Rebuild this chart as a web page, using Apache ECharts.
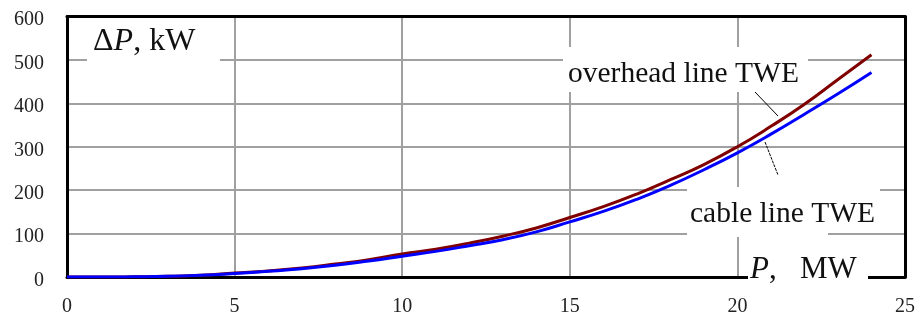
<!DOCTYPE html>
<html>
<head>
<meta charset="utf-8">
<script src="https://cdn.jsdelivr.net/npm/echarts@6/dist/echarts.min.js"></script>
<style>html,body{margin:0;padding:0;background:#fff}#c{width:919px;height:322px}</style>
</head>
<body>
<div id="c"></div>
<script>
// P, MW
const pValues = [0,1,2,3,4,5,6,7,8,9,10,11,12,13,14,15,16,17,18,19,20,21,22,23,24];
// ΔP, kW — overhead line TWE
const overheadLoss = [0,0,0.5,1.5,4,9,14,21,30,40,53,64,78,94,113,137,162,191,224,259,300,347,398,455,512];
// ΔP, kW — cable line TWE
const cableLoss = [0,0,0.5,1.5,4,8,13,19,27,37,48,59,72,86,104,127,151,179,211,247,286,329,375,422,471];
const xTicks = [0,5,10,15,20,25];
const yTicks = [0,100,200,300,400,500,600];

const chart = echarts.init(document.getElementById('c'));
const serif = '"Liberation Serif", "DejaVu Serif", serif';
const grid = {left: 67, right: 14, top: 16.5, bottom: 45};

chart.setOption({
  animation: false,
  backgroundColor: '#fff',
  grid: grid,
  xAxis: [{
    type: 'value', min: xTicks[0], max: xTicks[xTicks.length-1], interval: 5,
    axisLine: {show: true, onZero: false, lineStyle: {color: '#000', width: 3}},
    axisTick: {show: false},
    axisLabel: {color: '#222', fontFamily: serif, fontSize: 20, margin: 20},
    splitLine: {show: true, lineStyle: {color: '#a0a0a0', width: 2}}
  }, {
    type: 'value', position: 'top', min: 0, max: 25, interval: 5,
    axisLine: {show: true, onZero: false, lineStyle: {color: '#000', width: 3}},
    axisTick: {show: false}, axisLabel: {show: false}, splitLine: {show: false}
  }],
  yAxis: [{
    type: 'value', min: yTicks[0], max: yTicks[yTicks.length-1], interval: 100,
    axisLine: {show: true, onZero: false, lineStyle: {color: '#000', width: 3}},
    axisTick: {show: false},
    axisLabel: {color: '#222', fontFamily: serif, fontSize: 20, margin: 23,
      formatter: '{a|{value}}', rich: {a: {color: '#222', fontFamily: serif, fontSize: 20, padding: [7,0,0,0]}}},
    splitLine: {show: true, lineStyle: {color: '#a0a0a0', width: 2}}
  }, {
    type: 'value', position: 'right', min: 0, max: 600, interval: 100,
    axisLine: {show: true, onZero: false, lineStyle: {color: '#000', width: 3}},
    axisTick: {show: false}, axisLabel: {show: false}, splitLine: {show: false}
  }],
  series: [{
    name: 'overhead line TWE', type: 'line', smooth: true, showSymbol: false,
    data: pValues.map((p, i) => [p, overheadLoss[i]]),
    lineStyle: {color: '#800000', width: 3}, z: 2
  }, {
    name: 'cable line TWE', type: 'line', smooth: true, showSymbol: false,
    data: pValues.map((p, i) => [p, cableLoss[i]]),
    lineStyle: {color: '#0000ff', width: 3}, z: 3
  }],
  graphic: [
    {type: 'rect', z: 1, shape: {x: 87, y: 20, width: 133, height: 48}, style: {fill: '#fff'}},
    {type: 'rect', z: 1, shape: {x: 563, y: 47, width: 245, height: 45}, style: {fill: '#fff'}},
    {type: 'rect', z: 1, shape: {x: 687, y: 187, width: 141, height: 50}, style: {fill: '#fff'}},
    {type: 'rect', z: 1, shape: {x: 828, y: 187, width: 52, height: 44}, style: {fill: '#fff'}},
    {type: 'rect', z: 1, shape: {x: 748, y: 240, width: 120, height: 42}, style: {fill: '#fff'}},
    {type: 'text', z: 5, style: {x: 93, y: 42, text: '{n|Δ}{i|P}{n|, kW}', verticalAlign: 'middle', fill: '#111',
      rich: {n: {fontFamily: serif, fontSize: 32, fill: '#111'}, i: {fontFamily: serif, fontSize: 32, fontStyle: 'italic', fill: '#111'}}}},
    {type: 'text', z: 5, style: {x: 568, y: 74, text: 'overhead line TWE', verticalAlign: 'middle', fill: '#111',
      font: '29.5px ' + serif}},
    {type: 'text', z: 5, style: {x: 690, y: 214, text: 'cable line TWE', verticalAlign: 'middle', fill: '#111',
      font: '29.5px ' + serif}},
    {type: 'text', z: 5, style: {x: 750, y: 270, text: '{i|P}{n|,   MW}', verticalAlign: 'middle', fill: '#111',
      rich: {n: {fontFamily: serif, fontSize: 31, fill: '#111'}, i: {fontFamily: serif, fontSize: 31, fontStyle: 'italic', fill: '#111'}}}},
    {type: 'line', z: 5, shape: {x1: 755, y1: 92, x2: 778, y2: 116}, style: {stroke: '#000', lineWidth: 1}},
    {type: 'line', z: 5, shape: {x1: 765, y1: 142, x2: 778, y2: 175}, style: {stroke: '#000', lineWidth: 1, lineDash: [3, 1]}}
  ]
});
</script>
</body>
</html>
